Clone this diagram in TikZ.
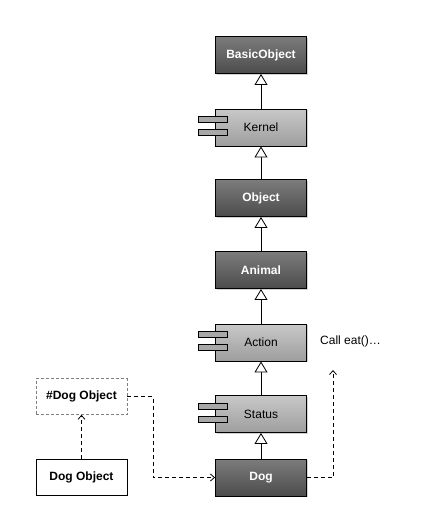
\documentclass[tikz,border=0pt]{standalone}
\usepackage{fontspec}
\setmainfont{Liberation Sans}
\usetikzlibrary{arrows.meta,shadows}
\definecolor{darktop}{HTML}{7C7C7C}
\definecolor{darkbot}{HTML}{4C4C4C}
\definecolor{lighttop}{HTML}{C8C8C8}
\definecolor{lightbot}{HTML}{9E9E9E}
\begin{document}
\begin{tikzpicture}[x=1pt,y=-1pt,
  base/.style={draw=black, line width=0.9pt, minimum width=91pt, minimum height=37pt, inner sep=0pt,
    drop shadow={shadow xshift=1.2pt, shadow yshift=-1.2pt, opacity=0.35}},
  darkbox/.style={base, top color=darktop, bottom color=darkbot, text=white, font=\bfseries\fontsize{12}{14}\selectfont},
  lightbox/.style={base, top color=lighttop, bottom color=lightbot, text=black, font=\fontsize{12}{14}\selectfont},
  objbox/.style={draw=black, line width=0.8pt, fill=white, minimum width=91pt, minimum height=36pt, inner sep=0pt, font=\bfseries\fontsize{12}{14}\selectfont},
  tab/.style={draw=black, line width=0.8pt, fill=lightbot!90!white},
  inh/.style={line width=0.8pt, -{Triangle[width=13pt,length=11pt,fill=white,line width=0.8pt]}},
  dep/.style={line width=0.8pt, dash pattern=on 4pt off 3pt, -{Straight Barb[length=4pt,width=7pt,line width=0.8pt]}},
  lbl/.style={font=\fontsize{12}{14}\selectfont, inner sep=0pt, anchor=west}
]
\useasboundingbox (0,0) rectangle (422,531);
\newcommand{\comptabs}[1]{%
  \draw[tab] ([xshift=-17pt,yshift=-8pt]#1.north west) rectangle ([xshift=12pt,yshift=-14pt]#1.north west);
  \draw[tab] ([xshift=-17pt,yshift=-21pt]#1.north west) rectangle ([xshift=12pt,yshift=-27pt]#1.north west);
}
\node[darkbox] (basic) at (261,55) {BasicObject};
\node[lightbox] (kernel) at (261,127.5) {Kernel};
\node[darkbox] (object) at (261,198) {Object};
\node[darkbox] (animal) at (261,270) {Animal};
\node[lightbox] (action) at (261,342.5) {Action};
\node[lightbox] (status) at (261,414) {Status};
\node[darkbox] (dog) at (261,477.5) {Dog};
\comptabs{kernel}
\comptabs{action}
\comptabs{status}
\node[objbox, draw=gray, densely dashed, line width=0.6pt] (hashdog) at (81.5,396.5) {\#Dog Object};
\node[objbox] (dogobj) at (81.5,477) {Dog Object};
\node[lbl] (call) at (320,341) {Call eat()…};
\coordinate (bend1) at (153,396.5);
\coordinate (calltarget) at (333,370);
\draw[inh] (kernel.north) -- (basic.south);
\draw[inh] (object.north) -- (kernel.south);
\draw[inh] (animal.north) -- (object.south);
\draw[inh] (action.north) -- (animal.south);
\draw[inh] (status.north) -- (action.south);
\draw[inh] (dog.north) -- (status.south);
\draw[dep] (dogobj.north) -- (hashdog.south);
\draw[dep] (hashdog.east) -- (bend1) |- (dog.west);
\draw[dep] (dog.east) -| (calltarget);
\end{tikzpicture}
\end{document}
